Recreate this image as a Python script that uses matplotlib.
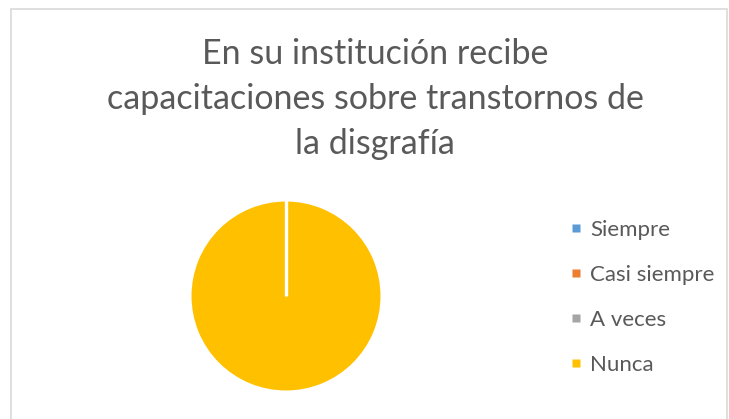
import numpy as np
import matplotlib
matplotlib.use('Agg')
import matplotlib.pyplot as plt
from matplotlib.patches import Rectangle
from matplotlib.lines import Line2D

title = "En su institución recibe\ncapacitaciones sobre transtornos de\nla disgrafía"
categories = ["Siempre", "Casi siempre", "A veces", "Nunca"]
counts = [0, 0, 0, 30]
colors = ["#5b9bd5", "#ed7d31", "#a5a5a5", "#ffc000"]

plt.rcParams['font.family'] = ['Lato', 'DejaVu Sans']

W, H = 729, 419
fig = plt.figure(figsize=(W / 100, H / 100), dpi=100)

# light gray chart border (bottom edge is cut off in the original)
fig.patches.append(Rectangle((10.5 / W, -0.05), 716 / W, (H - 8.5) / H + 0.05,
                             transform=fig.transFigure, fill=False,
                             edgecolor="#d9d9d9", linewidth=1.2))

fig.text(375 / W, 1 - 99 / H, title, ha="center", va="center",
         fontsize=24.5, color="#595959", linespacing=1.5)

# pie centre ~ (286, 296), radius ~ 96 px
ax = fig.add_axes([190 / W, (H - 392) / H, 192 / W, 192 / H])
wedges, _ = ax.pie(counts, colors=colors, startangle=90, counterclock=False,
                   wedgeprops=dict(edgecolor="white", linewidth=2.2))
# the zero-size slices still leave a white separator at the start angle
t = np.deg2rad(wedges[-1].theta1)
ax.plot([0, np.cos(t)], [0, np.sin(t)], color="white", linewidth=2.4,
        solid_capstyle="butt")
ax.set_xlim(-1, 1)
ax.set_ylim(-1, 1)
ax.set_aspect("equal")

handles = [Line2D([], [], linestyle="none", marker="s", markersize=5.2,
                  markerfacecolor=c, markeredgecolor="none") for c in colors]
fig.legend(handles, categories, loc="upper left",
           bbox_to_anchor=(568 / W, 1 - 220 / H), frameon=False,
           borderpad=0, borderaxespad=0,
           fontsize=16, labelcolor="#595959", handlelength=0.7,
           handletextpad=0.3, labelspacing=1.12)

fig.savefig("out.png", dpi=100)
